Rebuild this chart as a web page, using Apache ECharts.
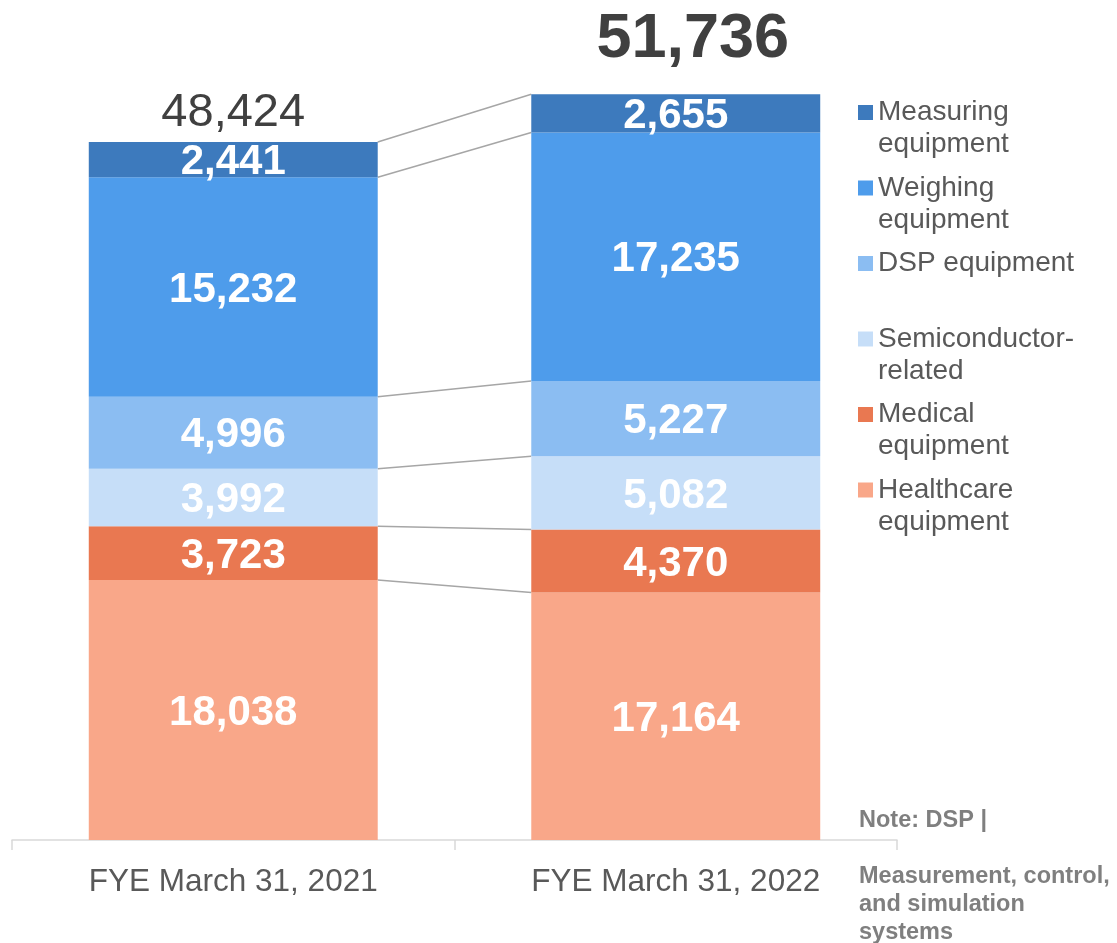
<!DOCTYPE html>
<html>
<head>
<meta charset="utf-8">
<script src="https://cdn.jsdelivr.net/npm/echarts@6/dist/echarts.min.js"></script>
<style>html,body{margin:0;padding:0;background:#fff;}#chart{width:1117px;height:943px;}</style>
</head>
<body>
<div id="chart"></div>
<script>
// Data
const categories = ['FYE March 31, 2021', 'FYE March 31, 2022'];
const healthcare = [18038, 17164];
const medical = [3723, 4370];
const semiconductor = [3992, 5082];
const dsp = [4996, 5227];
const weighing = [15232, 17235];
const measuring = [2441, 2655];
const totals = [48424, 51736];
const seriesNames = ['Healthcare equipment', 'Medical equipment', 'Semiconductor-related', 'DSP equipment', 'Weighing equipment', 'Measuring equipment'];
const legendLabels = {
  'Measuring equipment': 'Measuring\nequipment',
  'Weighing equipment': 'Weighing\nequipment',
  'DSP equipment': 'DSP equipment\n',
  'Semiconductor-related': 'Semiconductor-\nrelated',
  'Medical equipment': 'Medical\nequipment',
  'Healthcare equipment': 'Healthcare\nequipment'
};
const noteText = 'Note: DSP |\n\nMeasurement, control,\nand simulation\nsystems';

const seriesValues = [healthcare, medical, semiconductor, dsp, weighing, measuring];
const colors = ['#F9A789', '#E97851', '#C6DEF8', '#8BBDF2', '#4E9CEB', '#3D7ABD'];
const FONT = '"Liberation Sans", Arial, sans-serif';
const BAR_RATIO = 0.653;

// cumulative tops for connector lines
const connectors = [];
let c1 = 0, c2 = 0;
seriesValues.forEach(v => { c1 += v[0]; c2 += v[1]; connectors.push([0, c1, c2]); });

const chart = echarts.init(document.getElementById('chart'), null, {renderer: 'canvas'});

const barSeries = seriesNames.map((name, i) => ({
  name: name,
  type: 'bar',
  stack: 'total',
  barWidth: (BAR_RATIO * 100) + '%',
  itemStyle: {color: colors[i]},
  label: {
    show: true,
    position: 'inside',
    offset: [0, 3],
    color: '#ffffff',
    fontWeight: 'bold',
    fontSize: 42,
    fontFamily: FONT,
    formatter: p => p.value.toLocaleString('en-US')
  },
  emphasis: {disabled: true},
  data: seriesValues[i]
}));

const totalSeries = {
  name: 'Total',
  type: 'bar',
  stack: 'total',
  barWidth: (BAR_RATIO * 100) + '%',
  itemStyle: {color: 'transparent'},
  emphasis: {disabled: true},
  data: [
    {value: 0, label: {show: true, position: 'top', distance: 5, fontSize: 47, fontWeight: 'normal', color: '#404040', fontFamily: FONT, formatter: () => totals[0].toLocaleString('en-US')}},
    {value: 0, label: {show: true, position: 'top', distance: 23, offset: [17, 0], fontSize: 63, fontWeight: 'bold', color: '#404040', fontFamily: FONT, formatter: () => totals[1].toLocaleString('en-US')}}
  ]
};

const connectorSeries = {
  name: 'connectors',
  type: 'custom',
  silent: true,
  z: 1,
  encode: {x: 0, y: [1, 2]},
  renderItem: function (params, api) {
    const half = api.size([1, 0])[0] * BAR_RATIO / 2;
    const p1 = api.coord([0, api.value(1)]);
    const p2 = api.coord([1, api.value(2)]);
    return {
      type: 'line',
      shape: {x1: p1[0] + half, y1: p1[1], x2: p2[0] - half, y2: p2[1]},
      style: {stroke: '#A6A6A6', lineWidth: 1.5}
    };
  },
  data: connectors
};

const option = {
  animation: false,
  textStyle: {fontFamily: FONT},
  title: {
    text: noteText, left: 859, top: 807, padding: 0,
    textStyle: {fontSize: 23.5, fontWeight: 'bold', color: '#7F7F7F', lineHeight: 28, fontFamily: FONT}
  },
  legend: {
    orient: 'vertical',
    left: 858,
    top: 64.5,
    padding: 0,
    itemWidth: 15,
    itemHeight: 15,
    itemGap: -20.5,
    icon: 'rect',
    selectedMode: false,
    formatter: name => '\n' + legendLabels[name],
    textStyle: {fontSize: 28, color: '#595959', lineHeight: 32, fontFamily: FONT},
    data: ['Measuring equipment', 'Weighing equipment', 'DSP equipment', 'Semiconductor-related', 'Medical equipment', 'Healthcare equipment']
  },
  grid: {left: 12, right: 220, top: 47.2, bottom: 103, containLabel: false},
  xAxis: {
    type: 'category',
    data: categories,
    boundaryGap: true,
    axisLine: {lineStyle: {color: '#D9D9D9', width: 1.5}},
    axisTick: {show: true, length: 10, lineStyle: {color: '#D9D9D9', width: 1.5}},
    axisLabel: {fontSize: 31.5, color: '#595959', margin: 26, fontFamily: FONT}
  },
  yAxis: {
    type: 'value',
    min: 0,
    max: 55000,
    show: false,
    splitLine: {show: false}
  },
  series: [connectorSeries].concat(barSeries, [totalSeries])
};

chart.setOption(option);
</script>
</body>
</html>
